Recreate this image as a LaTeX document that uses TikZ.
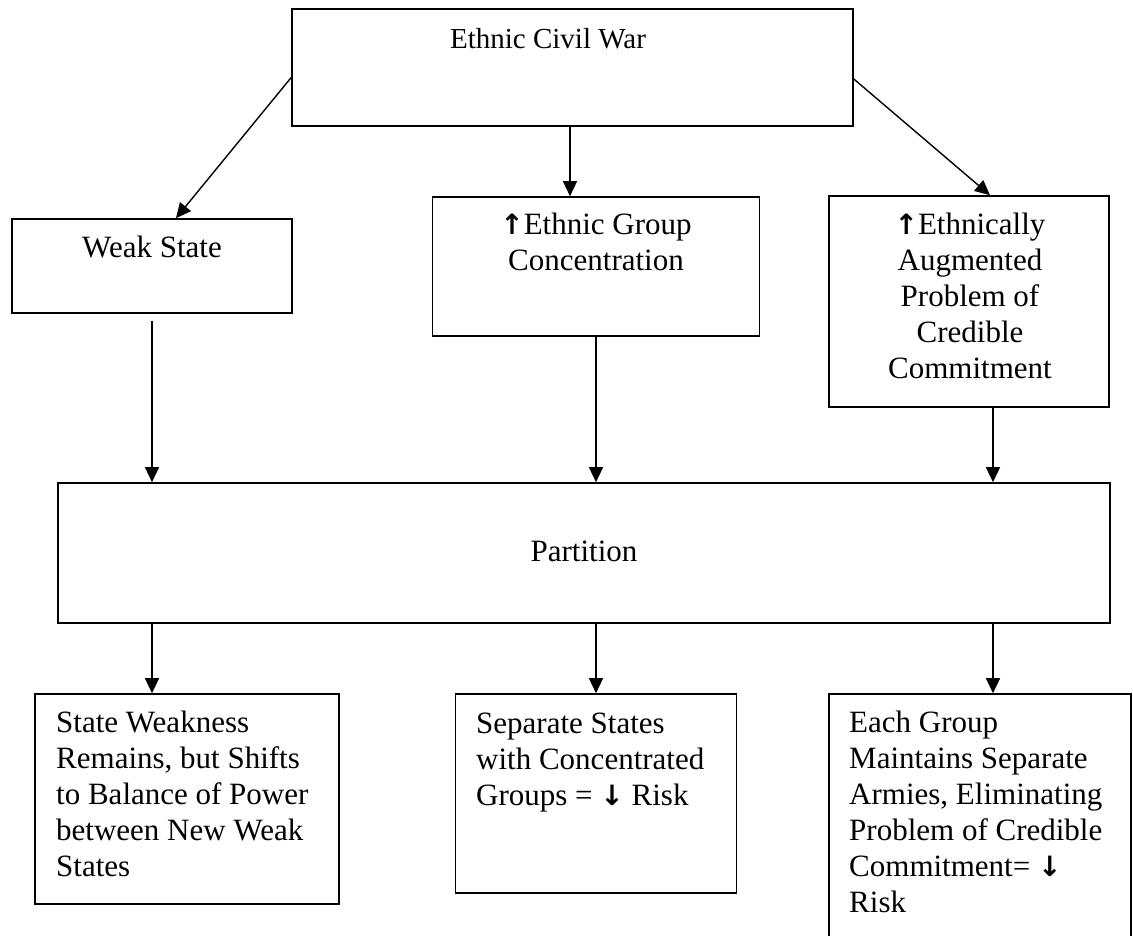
\documentclass[tikz,border=0pt]{standalone}
\usepackage{fontspec}
\setmainfont{Liberation Serif}
\newfontfamily\arrowfont{DejaVu Sans}
\newcommand{\uparr}{{\arrowfont\bfseries\fontsize{28}{28}\selectfont ↑}}
\newcommand{\dnarr}{{\arrowfont\bfseries\fontsize{28}{28}\selectfont ↓}}
\usetikzlibrary{arrows.meta}
\begin{document}
\begin{tikzpicture}[x=1pt,y=-1pt,
  box/.style={draw=black, line width=1.6pt, rectangle, inner sep=0pt, minimum width=#1},
  txt/.style={inner sep=0pt, font=\fontsize{31}{36}\selectfont},
  arr/.style={line width=1.4pt, -{Triangle[length=15pt,width=14pt]}}]
\useasboundingbox (0,0) rectangle (1133,936);
\clip (0,0) rectangle (1133,936);
% boxes
\node[box=561pt, minimum height=117pt] (top) at (572.5,67.5) {};
\node[box=280pt, minimum height=94pt] (ws) at (152,266) {};
\node[box=327pt, minimum height=139pt] (mid) at (596,266.5) {};
\node[box=280pt, minimum height=211pt] (rb) at (969,301.5) {};
\node[box=1052pt, minimum height=140pt] (part) at (584,553) {};
\node[box=304pt, minimum height=210pt] (bl) at (187,799) {};
\node[box=281pt, minimum height=199pt] (bm) at (596,793.5) {};
\node[box=302pt, minimum height=280pt] (br) at (980,834) {};
% texts (base anchor = baseline of the last line)
\node[txt, anchor=base, font=\fontsize{29}{36}\selectfont] (ttop) at (548,49) {Ethnic Civil War};
\node[txt, anchor=base] (tws) at (152,258) {Weak State};
\node[txt, anchor=base, align=center] (tmid) at (596,271) {\uparr Ethnic Group\\Concentration};
\node[txt, anchor=base, align=center] (trb) at (970,378) {\uparr Ethnically\\Augmented\\Problem of\\Credible\\Commitment};
\node[txt, anchor=base] (tpart) at (584,561) {Partition};
\node[txt, anchor=base west, align=left] (tbl) at (56,876) {State Weakness\\Remains, but Shifts\\to Balance of Power\\between New Weak\\States};
\node[txt, anchor=base west, align=left] (tbm) at (476,805) {Separate States\\with Concentrated\\Groups = \dnarr\ Risk};
\node[txt, anchor=base west, align=left] (tbr) at (849,912) {Each Group\\Maintains Separate\\Armies, Eliminating\\Problem of Credible\\Commitment= \dnarr\\Risk};
% connectors
\draw[arr] ([yshift=-10pt]top.west) -- ([xshift=24pt]ws.north);
\draw[arr] ([yshift=-11.5pt]top.east) -- ([xshift=21pt]rb.north);
\draw[arr] ([xshift=-2.5pt]top.south) -- ([xshift=-26pt]mid.north);
\draw[arr] ([yshift=-7pt]ws.south) -- (ws.south |- part.north);
\draw[arr] (mid.south) -- (mid.south |- part.north);
\draw[arr] ([xshift=24pt]rb.south) -- ([xshift=24pt]rb.south |- part.north);
\draw[arr] (ws.south |- part.south) -- (ws.south |- bl.north);
\draw[arr] (mid.south |- part.south) -- (bm.north);
\draw[arr] ([xshift=24pt]rb.south |- part.south) -- ([xshift=24pt]rb.south |- br.north);
\end{tikzpicture}
\end{document}
